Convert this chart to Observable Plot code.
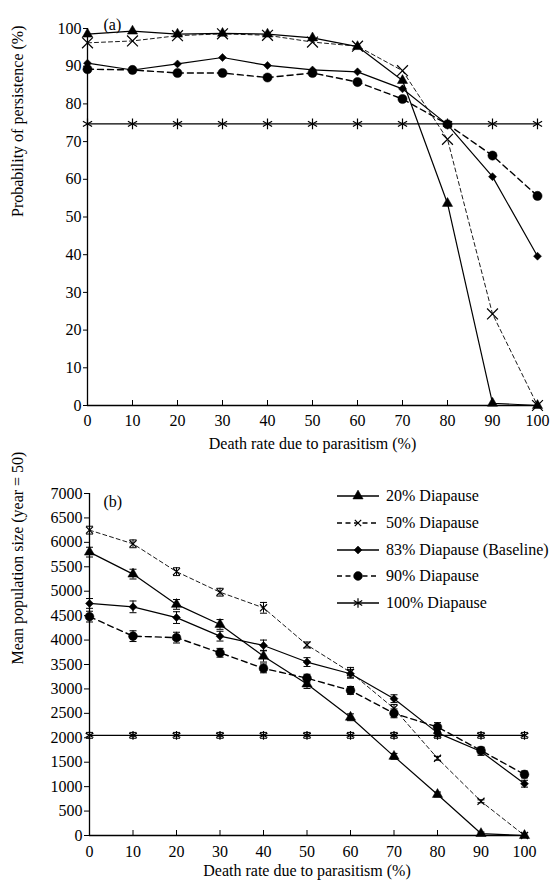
<!DOCTYPE html>
<html><head><meta charset="utf-8">
<script src="https://cdn.jsdelivr.net/npm/d3@7"></script>
<script src="https://cdn.jsdelivr.net/npm/@observablehq/plot@0.6"></script>
<style>
body{margin:0;background:#fff;}
#wrap{position:relative;width:552px;height:892px;font-family:"Liberation Serif","Times New Roman","DejaVu Serif",serif;color:#000;}
#wrap > svg{display:block;}
#wrap svg text{font-family:"Liberation Serif","Times New Roman","DejaVu Serif",serif;}
#legend{position:absolute;left:336px;top:483px;font-size:16px;}
#legend .row{display:flex;align-items:center;height:26.7px;}
#legend svg{display:block;margin-right:6px;}
</style></head><body><div id="wrap"></div>
<script>
// ---------- data ----------
const deathRate = [0, 10, 20, 30, 40, 50, 60, 70, 80, 90, 100];
const seriesNames = ["20% Diapause", "50% Diapause", "83% Diapause (Baseline)", "90% Diapause", "100% Diapause"];

// panel (a): probability of persistence (%)
const persist20  = [98.5, 99.3, 98.5, 98.7, 98.5, 97.5, 95.2, 86.2, 53.6, 0.6, 0];
const persist50  = [96.2, 96.7, 98.1, 98.6, 98.2, 96.4, 95.3, 88.8, 70.6, 24.3, 0];
const persist83  = [90.8, 89.0, 90.6, 92.3, 90.2, 89.0, 88.5, 84.0, 74.5, 60.7, 39.6];
const persist90  = [89.2, 89.0, 88.2, 88.2, 87.0, 88.2, 85.8, 81.3, 74.6, 66.3, 55.6];
const persist100 = [74.7, 74.7, 74.7, 74.7, 74.7, 74.7, 74.7, 74.7, 74.7, 74.7, 74.7];

// panel (b): mean population size (year = 50)
const pop20  = [5800, 5350, 4730, 4320, 3670, 3100, 2420, 1620, 840, 40, 0];
const pop50  = [6250, 5970, 5400, 4980, 4660, 3900, 3340, 2600, 1580, 700, 0];
const pop83  = [4750, 4680, 4460, 4080, 3890, 3550, 3310, 2800, 2100, 1720, 1060];
const pop90  = [4480, 4080, 4050, 3740, 3420, 3220, 2970, 2500, 2220, 1740, 1250];
const pop100 = [2050, 2050, 2050, 2050, 2050, 2050, 2050, 2050, 2050, 2050, 2050];
// standard errors (half-length of error bars)
const err20  = [100, 100, 100, 100, 120, 90, 70, 60, 50, 30, 0];
const err50  = [80, 80, 80, 80, 110, 60, 100, 80, 40, 30, 0];
const err83  = [100, 120, 120, 100, 110, 90, 90, 80, 80, 80, 70];
const err90  = [110, 110, 110, 90, 90, 80, 80, 90, 90, 70, 70];
const err100 = [60, 60, 60, 60, 60, 60, 60, 60, 60, 60, 60];

const yTicksA = [0, 10, 20, 30, 40, 50, 60, 70, 80, 90, 100];
const yTicksB = [0, 500, 1000, 1500, 2000, 2500, 3000, 3500, 4000, 4500, 5000, 5500, 6000, 6500, 7000];
const xTicks = deathRate;

// ---------- styles ----------
const FONT = '"Liberation Serif", "Times New Roman", "DejaVu Serif", serif';
const symbols = ["triangle", "times", "diamond2", "circle", "asterisk"];
const dashes = [null, "4,3", null, "6,4", null];
const widths = [1.2, 0.9, 1.2, 1.4, 1.2];
const strokeOnly = [false, true, false, false, true];
const radiiA = [3.8, 5, 3.6, 4.6, 5];
const radiiB = [3.8, 3.3, 3.6, 4.4, 4.2];

const persist = [persist20, persist50, persist83, persist90, persist100];
const pops = [pop20, pop50, pop83, pop90, pop100];
const errs = [err20, err50, err83, err90, err100];

const rowsA = seriesNames.flatMap((s, i) => deathRate.map((x, j) => ({s, i, x, y: persist[i][j]})));
const rowsB = seriesNames.flatMap((s, i) => deathRate.map((x, j) => ({s, i, x, y: pops[i][j], e: errs[i][j]})));

const capSymbol = {draw(ctx) { ctx.moveTo(-3.5, 0); ctx.lineTo(3.5, 0); }};
const fmt = d => String(d);

function seriesMarks(rows, radii) {
  const marks = [];
  seriesNames.forEach((s, i) => {
    const d = rows.filter(r => r.i === i);
    marks.push(Plot.line(d, {x: "x", y: "y", stroke: "black", strokeWidth: widths[i], strokeDasharray: dashes[i]}));
  });
  seriesNames.forEach((s, i) => {
    const d = rows.filter(r => r.i === i);
    marks.push(Plot.dot(d, {x: "x", y: "y", symbol: () => symbols[i], r: radii[i],
      fill: strokeOnly[i] ? "none" : "black", stroke: "black", strokeWidth: strokeOnly[i] ? 1.2 : 0.5}));
  });
  return marks;
}

const style = {fontFamily: FONT, fontSize: "16px", color: "black", background: "white", overflow: "visible"};
const wrap = document.getElementById("wrap");

// ---------- panel (a) ----------
const A = {w: 552, h: 460, mt: 28, mb: 55, ml: 87, mr: 15};
const plotA = Plot.plot({
  width: A.w, height: A.h, marginTop: A.mt, marginBottom: A.mb, marginLeft: A.ml, marginRight: A.mr,
  style,
  x: {domain: [0, 100]},
  y: {domain: [0, 100]},
  marks: [
    Plot.axisY(yTicksA, {tickSize: 4, tickPadding: 2, label: null, tickFormat: fmt}),
    Plot.axisX(xTicks, {tickSize: 0, tickPadding: 9, label: null, tickFormat: fmt}),
    Plot.ruleX(xTicks, {stroke: "black", insetTop: (A.h - A.mt - A.mb) - 5}),
    Plot.ruleX([0], {stroke: "black", strokeWidth: 1.3}),
    Plot.ruleY([0], {stroke: "black", strokeWidth: 1.3}),
    ...seriesMarks(rowsA, radiiA),
    Plot.text(["(a)"], {frameAnchor: "top-left", dx: 16, dy: -10, textAnchor: "start", fontSize: 16}),
    Plot.text(["Death rate due to parasitism (%)"], {frameAnchor: "bottom", dy: 43, fontSize: 16}),
    Plot.text(["Probability of persistence (%)"], {frameAnchor: "left", dx: -70, rotate: -90, fontSize: 16})
  ]
});
wrap.appendChild(plotA);

// ---------- panel (b) ----------
const B = {w: 552, h: 432, mt: 33, mb: 57, ml: 89, mr: 28};
const plotB = Plot.plot({
  width: B.w, height: B.h, marginTop: B.mt, marginBottom: B.mb, marginLeft: B.ml, marginRight: B.mr,
  style,
  x: {domain: [0, 100]},
  y: {domain: [0, 7000]},
  marks: [
    Plot.axisY(yTicksB, {tickSize: 5, tickPadding: 2, label: null, tickFormat: fmt}),
    Plot.axisX(xTicks, {tickSize: 0, tickPadding: 10, label: null, tickFormat: fmt}),
    Plot.ruleX(xTicks, {stroke: "black", insetTop: (B.h - B.mt - B.mb) - 5}),
    Plot.ruleX([0], {stroke: "black", strokeWidth: 1.3}),
    Plot.ruleY([0], {stroke: "black", strokeWidth: 1.3}),
    Plot.ruleX(rowsB.filter(d => d.e > 0), {x: "x", y1: d => d.y - d.e, y2: d => d.y + d.e, stroke: "black", strokeWidth: 1}),
    Plot.dot(rowsB.filter(d => d.e > 0), {x: "x", y: d => d.y - d.e, symbol: () => capSymbol, stroke: "black", fill: "none", strokeWidth: 1}),
    Plot.dot(rowsB.filter(d => d.e > 0), {x: "x", y: d => d.y + d.e, symbol: () => capSymbol, stroke: "black", fill: "none", strokeWidth: 1}),
    ...seriesMarks(rowsB, radiiB),
    Plot.text(["(b)"], {frameAnchor: "top-left", dx: 14, dy: 2, textAnchor: "start", fontSize: 16}),
    Plot.text(["Death rate due to parasitism (%)"], {frameAnchor: "bottom", dy: 40, fontSize: 16}),
    Plot.text(["Mean population size (year = 50)"], {frameAnchor: "left", dx: -72, rotate: -90, fontSize: 16})
  ]
});
wrap.appendChild(plotB);

// ---------- legend ----------
const legend = d3.select(wrap).append("div").attr("id", "legend");
const symMap = {triangle: d3.symbolTriangle, times: d3.symbolTimes, diamond2: d3.symbolDiamond2, circle: d3.symbolCircle, asterisk: d3.symbolAsterisk};
const legendR = [3.8, 3, 3.6, 4.4, 4.6];
seriesNames.forEach((s, i) => {
  const row = legend.append("div").attr("class", "row");
  const svg = row.append("svg").attr("width", 44).attr("height", 14);
  svg.append("line").attr("x1", 1).attr("x2", 43).attr("y1", 7).attr("y2", 7)
    .attr("stroke", "black").attr("stroke-width", 1.3)
    .attr("stroke-dasharray", i === 1 || i === 3 ? "5,3.5" : null);
  svg.append("path").attr("transform", "translate(22,7)")
    .attr("d", d3.symbol(symMap[symbols[i]], Math.PI * legendR[i] * legendR[i])())
    .attr("fill", strokeOnly[i] ? "none" : "black").attr("stroke", "black").attr("stroke-width", strokeOnly[i] ? 1.2 : 0.5);
  row.append("span").text(s);
});
</script></body></html>
